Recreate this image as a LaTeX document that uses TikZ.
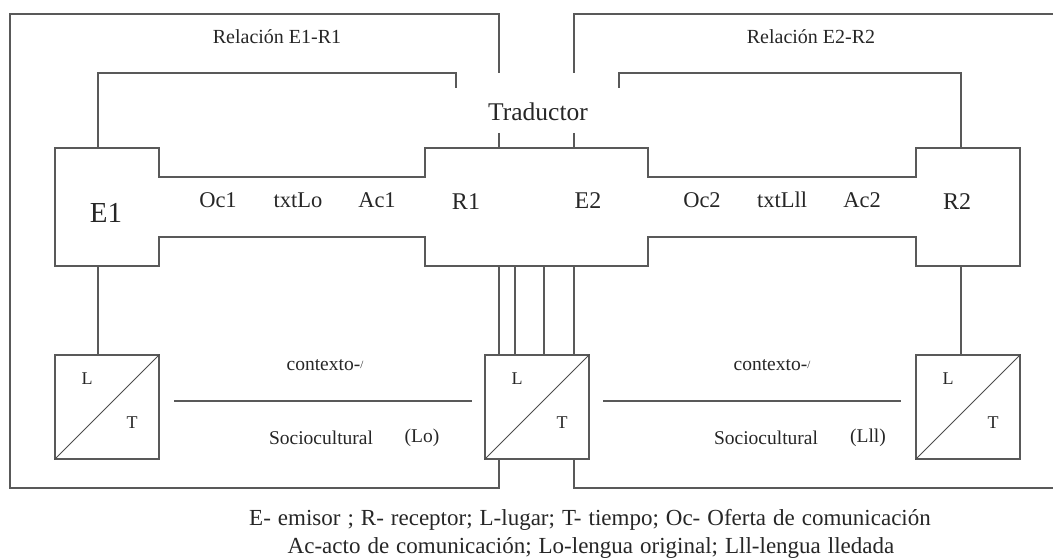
\documentclass[tikz,border=0pt]{standalone}
\usepackage{fontspec}
\setmainfont{Liberation Serif}
\usetikzlibrary{positioning}
\tikzset{
	ln/.style={draw=black!65, line width=1.3pt},
	dg/.style={draw=black!70, line width=0.9pt},
	txt/.style={text=black!85, inner sep=0pt},
	big/.style={txt, font=\fontsize{24}{24}\selectfont},
	mid/.style={txt, font=\fontsize{22.5}{22.5}\selectfont},
	sm/.style={txt, font=\fontsize{19.5}{19.5}\selectfont},
	ley/.style={txt, font=\fontsize{23}{23}\selectfont, anchor=base},
	lt/.style={ln, minimum width=104pt, minimum height=104pt, inner sep=0pt},
}

\begin{document}
\begin{tikzpicture}[x=1pt,y=-1pt]
	\useasboundingbox (0,0) rectangle (1053,559);

	\node[lt] (lt1) at (107,407) {};
	\node[lt] (lt2) at (537,407) {};
	\node[lt] (lt3) at (968,407) {};

	\node[big, font=\fontsize{25.5}{25.5}\selectfont] (trad) at (538,112) {Traductor};
	\node[sm, font=\fontsize{20}{20}\selectfont] (rel1) at (277,37) {Relación E1-R1};
	\node[sm, font=\fontsize{20}{20}\selectfont] (rel2) at (811,37) {Relación E2-R2};

	% marcos
	\draw[ln] (499,73) -- (499,14) -- (10,14) -- (10,488) -- (499,488) -- (499,0 |- lt2.south);
	\draw[ln] (574,73) -- (574,14) -- (1053,14);
	\draw[ln] (1053,488) -- (574,488) -- (574,0 |- lt2.south);
	\draw[ln] (499,133) -- (499,148);
	\draw[ln] (574,133) -- (574,148);

	\draw[ln] (456,88) -- (456,73) -- (98,73) -- (98,148);
	\draw[ln] (619,88) -- (619,73) -- (961,73) -- (961,148);

	\draw[ln] (55,148) -- (159,148) -- (159,177) -- (425,177) -- (425,148)
		-- (648,148) -- (648,177) -- (916,177) -- (916,148) -- (1020,148)
		-- (1020,266) -- (916,266) -- (916,237) -- (648,237) -- (648,266)
		-- (425,266) -- (425,237) -- (159,237) -- (159,266) -- (55,266) -- cycle;

	\node[big, font=\fontsize{29}{29}\selectfont] (e1) at (106,213) {E1};
	\node[mid] (oc1) at (218,200) {Oc1};
	\node[mid] (tx1) at (298,200) {txtLo};
	\node[mid] (ac1) at (377,200) {Ac1};
	\node[big] (r1) at (466,202) {R1};
	\node[big] (e2) at (588,201) {E2};
	\node[mid] (oc2) at (702,200) {Oc2};
	\node[mid] (tx2) at (782,200) {txtLll};
	\node[mid] (ac2) at (862,200) {Ac2};
	\node[big] (r2) at (957,202) {R2};

	\coordinate (B1) at (98,266);
	\coordinate (B3) at (961,266);
	\draw[ln] (B1) -- (B1 |- lt1.north);
	\draw[ln] (B3) -- (B3 |- lt3.north);
	\foreach \x in {499,515,544,574}
		\draw[ln] (\x,266) -- (\x,0 |- lt2.north);

	\foreach \b in {lt1,lt2,lt3}{
		\draw[dg] (\b.south west) -- (\b.north east);
		\node[sm, font=\fontsize{18}{18}\selectfont] (\b l) at ([shift={(-20,-28)}]\b.center) {L};
		\node[sm, font=\fontsize{18}{18}\selectfont] (\b t) at ([shift={(25,16)}]\b.center) {T};
	}

	\draw[ln] (174,401) -- (472,401);
	\draw[ln] (603,401) -- (901,401);
	\node[sm] (ctx1) at (325,365) {contexto-\raisebox{2pt}{\fontsize{11}{11}\selectfont/}};
	\node[sm] (ctx2) at (772,365) {contexto-\raisebox{2pt}{\fontsize{11}{11}\selectfont/}};
	\node[sm] (soc1) at (321,438) {Sociocultural};
	\node[sm] (lo) at (422,438) {(Lo)};
	\node[sm] (soc2) at (766,438) {Sociocultural};
	\node[sm] (lll) at (868,438) {(Lll)};

	\node[ley] (ley1) at (590,525)
		{\spaceskip=7pt\relax E- emisor ; R- receptor; L-lugar; T- tiempo; Oc- Oferta de comunicación};
	\node[ley] (ley2) at (591,553)
		{\spaceskip=7pt\relax Ac-acto de comunicación; Lo-lengua original; Lll-lengua lledada};
\end{tikzpicture}
\end{document}
